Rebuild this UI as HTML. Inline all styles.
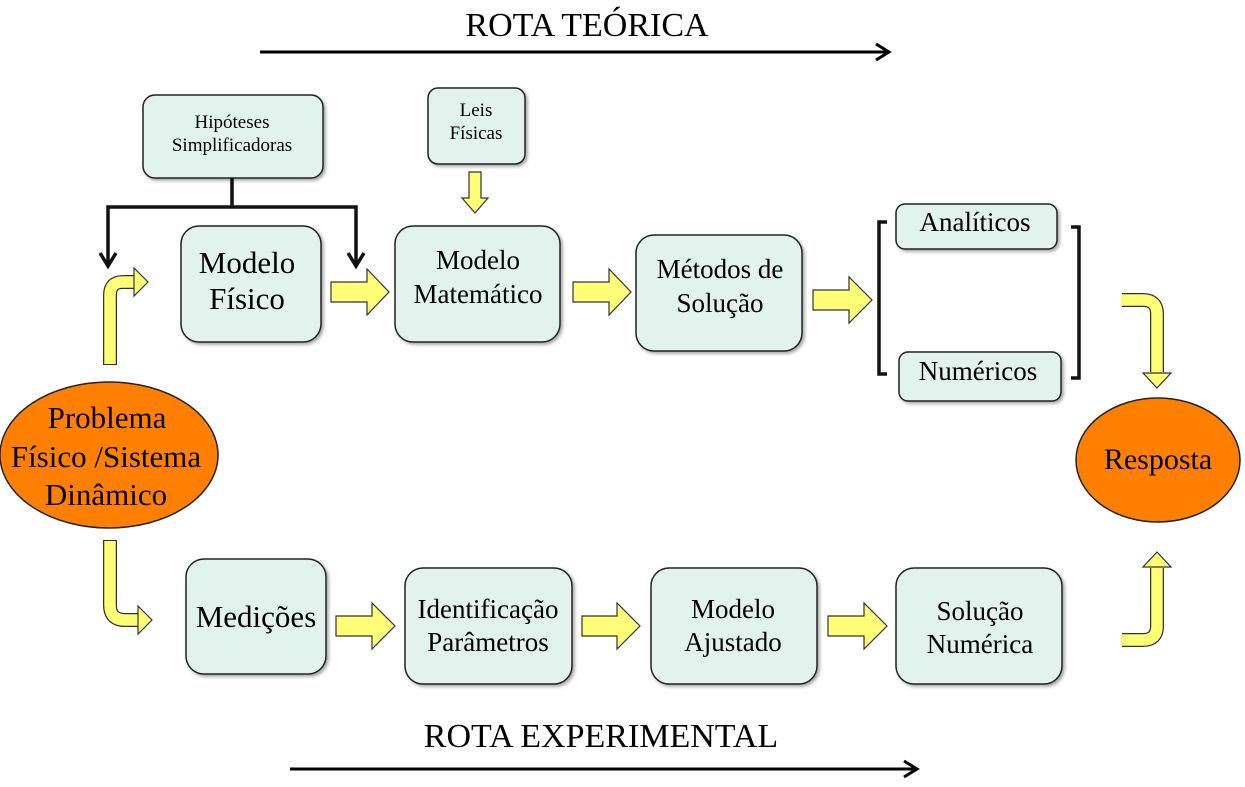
<!DOCTYPE html>
<html><head><meta charset="utf-8"><style>
html,body{margin:0;padding:0;background:#fff;}
svg{display:block}
text{font-family:"Liberation Serif",serif;fill:#000;text-anchor:middle}
</style></head><body>
<svg width="1245" height="787" viewBox="0 0 1245 787" xmlns="http://www.w3.org/2000/svg">
<defs>
<filter id="sh" x="-10%" y="-10%" width="130%" height="130%"><feDropShadow dx="2" dy="2" stdDeviation="1.5" flood-color="#000" flood-opacity="0.35"/></filter>
</defs>
<text x="587" y="36" font-size="34">ROTA TEÓRICA</text>
<line x1="260" y1="52" x2="886" y2="52" stroke="#000" stroke-width="3"/>
<polyline points="876,44 889,52 876,60" fill="none" stroke="#000" stroke-width="3"/>
<text x="601" y="747" font-size="34">ROTA EXPERIMENTAL</text>
<line x1="290" y1="769" x2="914" y2="769" stroke="#000" stroke-width="3"/>
<polyline points="904,761 917,769 904,777" fill="none" stroke="#000" stroke-width="3"/>

<g fill="#e2f3ee" stroke="#222" stroke-width="1.5" filter="url(#sh)">
<rect x="143" y="95" width="180" height="83" rx="12"/>
<rect x="428" y="88" width="97" height="76" rx="10"/>
<rect x="181" y="226" width="140" height="116" rx="18"/>
<rect x="395" y="226" width="165" height="116" rx="18"/>
<rect x="636" y="235" width="166" height="116" rx="18"/>
<rect x="896" y="204" width="161" height="45" rx="9"/>
<rect x="899" y="352" width="162" height="49" rx="9"/>
<rect x="186" y="559" width="140" height="115" rx="18"/>
<rect x="405" y="568" width="167" height="116" rx="18"/>
<rect x="651" y="568" width="166" height="116" rx="18"/>
<rect x="896" y="568" width="166" height="116" rx="18"/>
</g>
<g fill="#ff7f00" stroke="#222" stroke-width="1.5">
<ellipse cx="109" cy="455" rx="109" ry="73"/>
<ellipse cx="1158" cy="460" rx="82" ry="62"/>
</g>

<g fill="none" stroke="#111" stroke-width="3.5">
<line x1="232" y1="178" x2="232" y2="207"/>
<polyline points="108,264 108,207 356,207 356,264"/>
<polyline points="100,253 108,266 116,253"/>
<polyline points="348,253 356,266 364,253"/>
<polyline points="887,222 879,222 879,374 887,374"/>
<polyline points="1071,227 1079,227 1079,378 1071,378"/>
</g>

<g fill="#ffff77" stroke="#333" stroke-width="1.2">
<polygon points="331,282 367,282 367,269 389,292 367,315 367,302 331,302"/>
<polygon points="573,282 609,282 609,269 631,292 609,315 609,302 573,302"/>
<polygon points="813,290 849,290 849,277 872,300 849,323 849,310 813,310"/>
<polygon points="336,616 372,616 372,603 395,626 372,649 372,636 336,636"/>
<polygon points="582,616 617,616 617,603 640,626 617,649 617,636 582,636"/>
<polygon points="828,616 864,616 864,603 887,626 864,649 864,636 828,636"/>
<polygon points="469,172 481,172 481,198 488,198 475,213 462,198 469,198"/>
</g>
<g fill="none" stroke-linejoin="round">
<path d="M110,365 V295 Q110,282 123,282 H134" stroke="#333" stroke-width="14"/>
<path d="M110,364 V295 Q110,282 123,282 H135" stroke="#ffff77" stroke-width="11.5"/>
<path d="M110,540 V605 Q110,620 125,620 H138" stroke="#333" stroke-width="14"/>
<path d="M110,541 V605 Q110,620 125,620 H139" stroke="#ffff77" stroke-width="11.5"/>
<path d="M1122,300 H1143 Q1157,300 1157,314 V372" stroke="#333" stroke-width="14"/>
<path d="M1121,300 H1143 Q1157,300 1157,314 V373" stroke="#ffff77" stroke-width="11.5"/>
<path d="M1122,640 H1143 Q1157,640 1157,626 V568" stroke="#333" stroke-width="14"/>
<path d="M1121,640 H1143 Q1157,640 1157,626 V567" stroke="#ffff77" stroke-width="11.5"/>
</g>
<g fill="#ffff77" stroke="#333" stroke-width="1.2">
<polygon points="134,268 148,282 134,296"/>
<polygon points="138,606 152,620 138,634"/>
<polygon points="1143,373 1157,388 1171,373"/>
<polygon points="1143,567 1157,552 1171,567"/>
</g>

<text x="232" y="128" font-size="19">Hipóteses</text>
<text x="232" y="151" font-size="19">Simplificadoras</text>
<text x="476" y="116" font-size="19">Leis</text>
<text x="476" y="139" font-size="19">Físicas</text>
<text x="247" y="273" font-size="31">Modelo</text>
<text x="247" y="309" font-size="31">Físico</text>
<text x="478" y="269" font-size="27">Modelo</text>
<text x="478" y="303" font-size="27">Matemático</text>
<text x="720" y="278" font-size="27">Métodos de</text>
<text x="720" y="312" font-size="27">Solução</text>
<text x="975" y="231" font-size="27">Analíticos</text>
<text x="978" y="380" font-size="27">Numéricos</text>
<text x="107" y="428" font-size="31">Problema</text>
<text x="106" y="467" font-size="31">Físico /Sistema</text>
<text x="106" y="505" font-size="31">Dinâmico</text>
<text x="1158" y="469" font-size="30">Resposta</text>
<text x="256" y="627" font-size="31">Medições</text>
<text x="488" y="618" font-size="27">Identificação</text>
<text x="488" y="651" font-size="27">Parâmetros</text>
<text x="733" y="618" font-size="27">Modelo</text>
<text x="733" y="651" font-size="27">Ajustado</text>
<text x="980" y="620" font-size="27">Solução</text>
<text x="980" y="653" font-size="27">Numérica</text>
</svg>
</body></html>
